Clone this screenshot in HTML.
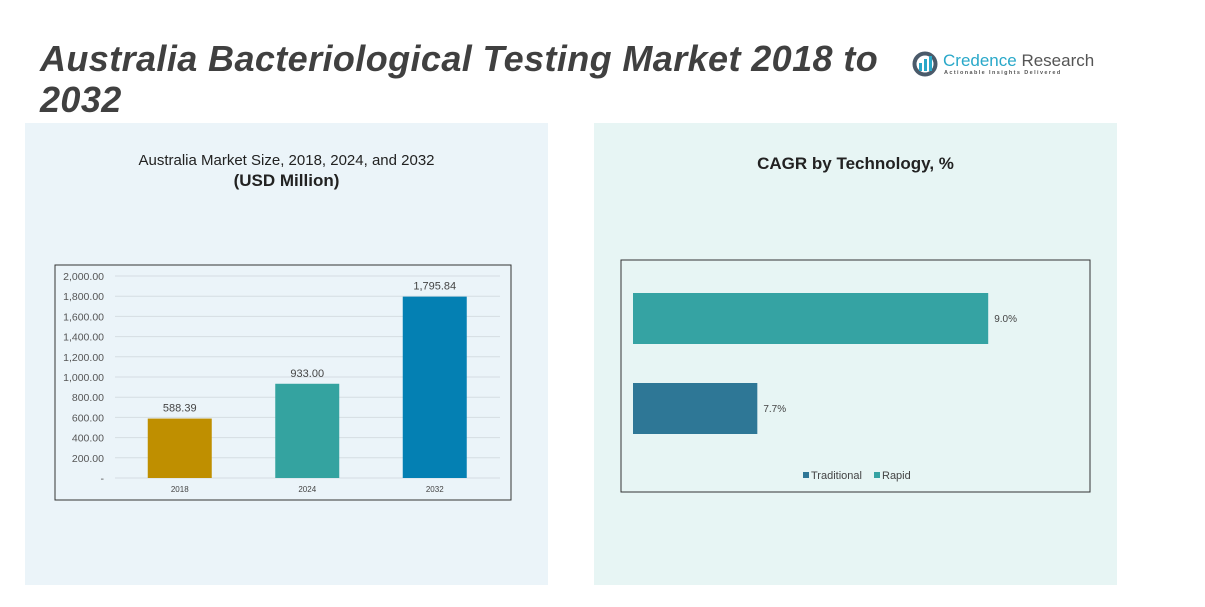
<!DOCTYPE html>
<html><head><meta charset="utf-8"><style>
body{margin:0;width:1205px;height:607px;background:#fff;overflow:hidden;position:relative;font-family:"Liberation Sans",sans-serif}
.abs{position:absolute}
</style></head><body>
<div class="abs" style="left:25px;top:123px;width:523px;height:462px;background:#ebf4f9"></div>
<div class="abs" style="left:594px;top:123px;width:523px;height:462px;background:#e7f5f4"></div>
<div class="abs" style="left:40px;top:38px;width:880px;font-size:36px;letter-spacing:0.4px;font-weight:bold;font-style:italic;color:#404040;line-height:41px">Australia Bacteriological Testing Market 2018 to 2032</div>
<div class="abs" style="left:912px;top:51px">
<svg width="26" height="26" style="position:absolute;left:0;top:0"><circle cx="13" cy="13" r="10.5" fill="none" stroke="#4a5a6a" stroke-width="4"/><rect x="7" y="12" width="3" height="8" fill="#29a8c9"/><rect x="12" y="8" width="3" height="12" fill="#29a8c9"/><rect x="17" y="5" width="3" height="15" fill="#29a8c9"/></svg>
<div class="abs" style="left:31px;top:0;white-space:nowrap;font-size:17px;color:#29a8c9">Credence <span style="color:#555">Research</span></div>
<div class="abs" style="left:32px;top:19px;white-space:nowrap;font-size:5.5px;letter-spacing:1.4px;color:#555;font-weight:bold">Actionable Insights Delivered</div>
</div>
<div class="abs" style="left:25px;width:523px;top:152px;text-align:center;font-size:15px;color:#222">Australia Market Size, 2018, 2024, and 2032<br><b style="font-size:17px;line-height:24px">(USD Million)</b></div>
<div class="abs" style="left:594px;width:523px;top:154px;text-align:center;font-size:17px;font-weight:bold;color:#222">CAGR by Technology, %</div>
<svg class="abs" style="left:0;top:0" width="1205" height="607" id="svg"></svg>
<script>
const years=["2018","2024","2032"];
const sizes=[588.39,933.00,1795.84];
const sizeLabels=["588.39","933.00","1,795.84"];
const yTicks=[0,200,400,600,800,1000,1200,1400,1600,1800,2000];
const techs=["Rapid","Traditional"];
const cagr=[9.0,7.7];
const cagrLabels=["9.0%","7.7%"];
const svg=document.getElementById('svg');
const NS='http://www.w3.org/2000/svg';
function mk(t,a,p){const e=document.createElementNS(NS,t);for(const k in a)e.setAttribute(k,a[k]);(p||svg).appendChild(e);return e;}
let f=mk('rect',{x:55,y:265,width:456,height:235,fill:'none',stroke:'#333','stroke-width':1});


const y=v=>478-v*(202/2000);
const x0=116,cw=127.5;
yTicks.forEach(v=>{
 const g=mk('line',{x1:115,x2:500,y1:y(v),y2:y(v),stroke:'#d5dde2','stroke-width':1});
 
 
 const t=mk('text',{x:104,y:y(v)+4,'text-anchor':'end','font-size':10.5,fill:'#555'});
 t.textContent=v===0?'-':v.toLocaleString('en-US',{minimumFractionDigits:2});
 
 
});
const cols=['#bf8f00','#34a3a0','#0480b3'];
years.forEach((yr,i)=>{
 const cx=x0+cw*(i+0.5);
 const b=mk('rect',{x:cx-32,y:y(sizes[i]),width:64,height:y(0)-y(sizes[i]),fill:cols[i]});
 
 
 const l=mk('text',{x:cx,y:y(sizes[i])-7,'text-anchor':'middle','font-size':11,fill:'#444'});
 l.textContent=sizeLabels[i];
 
 
 const c=mk('text',{x:cx,y:492,'text-anchor':'middle','font-size':8,fill:'#444'});
 c.textContent=yr;
 
 
});
f=mk('rect',{x:621,y:260,width:469,height:232,fill:'none',stroke:'#333','stroke-width':1});


const xs=v=>633+(v-7)*(444/2.5);
const hcols=['#35a3a3','#2e7796'];
const rowY=[293,383];
techs.forEach((t,i)=>{
 const b=mk('rect',{x:633,y:rowY[i],width:xs(cagr[i])-633,height:51,fill:hcols[i]});
 
 
 const l=mk('text',{x:xs(cagr[i])+6,y:rowY[i]+29,'font-size':10,fill:'#444'});
 l.textContent=cagrLabels[i];
 
 
});
[["Traditional",'#2e7796',803],["Rapid",'#35a3a3',874]].forEach(([n,c,x])=>{
 const g=mk('g',{});
 
 
 mk('rect',{x:x,y:472,width:6,height:6,fill:c},g);
 const t=mk('text',{x:x+8,y:479,'font-size':11,fill:'#444'},g);t.textContent=n;
});
</script>
</body></html>
